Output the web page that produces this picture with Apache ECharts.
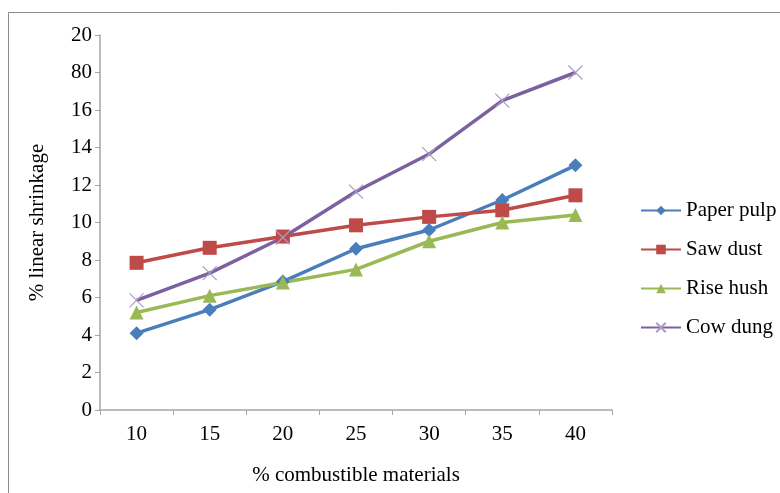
<!DOCTYPE html>
<html><head><meta charset="utf-8">
<script src="https://cdn.jsdelivr.net/npm/echarts@6/dist/echarts.min.js"></script>
<style>html,body{margin:0;padding:0;background:#fff}#c{width:780px;height:493px}</style>
</head><body><div id="c"></div>
<script>
const categories = ['10','15','20','25','30','35','40'];
const yTickLabels = ['0','2','4','6','8','10','12','14','16','80','20'];
const paperPulp = [4.1, 5.35, 6.85, 8.6, 9.6, 11.2, 13.05];
const sawDust = [7.85, 8.65, 9.25, 9.85, 10.3, 10.65, 11.45];
const riseHush = [5.2, 6.1, 6.8, 7.5, 9.0, 10.0, 10.4];
const cowDung = [5.85, 7.3, 9.2, 11.65, 13.65, 16.5, 18.0];

const FONT = '"Liberation Serif", "Times New Roman", serif';
const FS = 21;
const xPath = 'path://M0,0 L10,10 M10,0 L0,10';
const chart = echarts.init(document.getElementById('c'));
function mk(name, data, color, symbol, size, extra) {
  return Object.assign({
    name, type: 'line', data, symbol, symbolSize: size,
    lineStyle: { color, width: 3.5 },
    itemStyle: { color },
    emphasis: { disabled: true }
  }, extra || {});
}
chart.setOption({
  animation: false,
  textStyle: { fontFamily: FONT },
  graphic: [{ type: 'rect', shape: { x: 8.5, y: 12.5, width: 800, height: 500 },
    style: { fill: 'none', stroke: '#8c8c8c', lineWidth: 1 } }],
  grid: { left: 100, right: 168, top: 35, bottom: 83 },
  xAxis: {
    type: 'category', data: categories, boundaryGap: true,
    name: '% combustible materials', nameLocation: 'middle', nameGap: 55,
    nameTextStyle: { fontFamily: FONT, fontSize: FS, color: '#000' },
    axisLine: { lineStyle: { color: '#a6a6a6', width: 1.5 } },
    axisTick: { show: true, length: 5, lineStyle: { color: '#a6a6a6' } },
    axisLabel: { fontFamily: FONT, fontSize: FS, color: '#000', margin: 14 },
    splitLine: { show: false }
  },
  yAxis: {
    type: 'value', min: 0, max: 20, interval: 2,
    name: '% linear shrinkage', nameLocation: 'middle', nameGap: 52, nameRotate: 90,
    nameTextStyle: { fontFamily: FONT, fontSize: FS, color: '#000' },
    axisLine: { show: true, lineStyle: { color: '#a6a6a6', width: 1.5 } },
    axisTick: { show: true, length: 5, lineStyle: { color: '#a6a6a6' } },
    axisLabel: { fontFamily: FONT, fontSize: FS, color: '#000', margin: 8,
      formatter: v => yTickLabels[Math.round(v / 2)] },
    splitLine: { show: false }
  },
  legend: {
    orient: 'vertical', left: 640, top: 200, itemGap: 18, padding: 0,
    itemWidth: 40, itemHeight: 12,
    textStyle: { fontFamily: FONT, fontSize: FS, color: '#000' },
    data: ['Paper pulp', 'Saw dust', 'Rise hush', 'Cow dung']
  },
  series: [
    mk('Paper pulp', paperPulp, '#4a7ebb', 'diamond', 14),
    mk('Saw dust', sawDust, '#be4b48', 'rect', 14),
    mk('Rise hush', riseHush, '#98b954', 'triangle', 14),
    mk('Cow dung', cowDung, '#7d60a0', xPath, 14, {
      itemStyle: { color: 'none', borderColor: '#a99bc6', borderWidth: 1.2 }
    })
  ]
});
</script></body></html>
